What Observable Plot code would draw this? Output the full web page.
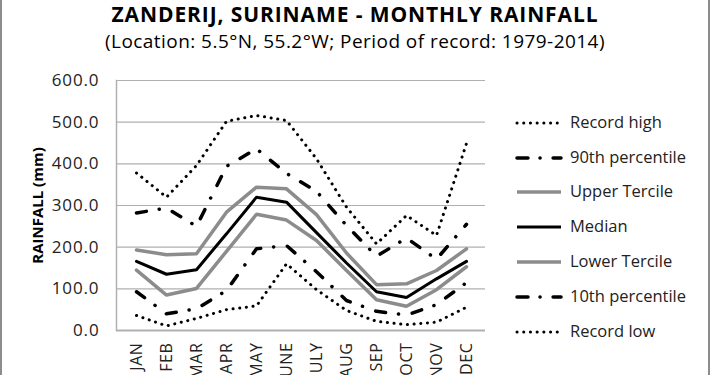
<!DOCTYPE html>
<html>
<head>
<meta charset="utf-8">
<script src="https://cdn.jsdelivr.net/npm/d3@7"></script>
<script src="https://cdn.jsdelivr.net/npm/@observablehq/plot@0.6"></script>
<style>
  html, body { margin: 0; padding: 0; background: #fff; }
  #wrap { position: relative; width: 710px; height: 375px; overflow: hidden; background: #fff; font-family: "Open Sans", sans-serif; }
  #edge { position: absolute; left: 0; top: -2px; width: 706px; height: 380px; border-left: 2px solid #8c8c8c; border-right: 2px solid #8c8c8c; pointer-events: none; }
  #title { position: absolute; left: 0; width: 710px; top: 0px; text-align: center; font-weight: bold; font-size: 21px; letter-spacing: 0.9px; color: #000; line-height: 29px; }
  #subtitle { position: absolute; left: 0; width: 710px; top: 28px; text-align: center; font-size: 19px; letter-spacing: 0.45px; color: #000; line-height: 26px; }
  #chart { position: absolute; left: 0; top: 60px; }
  #chart svg g[aria-label="y-axis tick label"] text { letter-spacing: 0.9px; }
  #chart svg g[aria-label="x-axis tick label"] text { letter-spacing: 0.6px; }
  #legend { position: absolute; left: 515px; top: 0; }
  .row { position: absolute; left: 0; height: 20px; white-space: nowrap; font-size: 16.5px; color: #222; }
  .row svg { position: absolute; left: 0; top: 5px; }
  .row span { position: absolute; left: 55px; top: -2px; line-height: 22px; }
</style>
</head>
<body>
<div id="wrap">
  <div id="title">ZANDERIJ, SURINAME - MONTHLY RAINFALL</div>
  <div id="subtitle">(Location: 5.5°N, 55.2°W; Period of record: 1979-2014)</div>
  <div id="chart"></div>
  <div id="legend"></div>
  <div id="edge"></div>
</div>
<script>
const months = ["JAN","FEB","MAR","APR","MAY","JUNE","JULY","AUG","SEP","OCT","NOV","DEC"];
const recordHigh   = [378, 320, 396, 502, 516, 504, 412, 296, 208, 276, 228, 449];
const p90          = [282, 294, 250, 394, 436, 377, 334, 252, 178, 222, 171, 255];
const upperTercile = [193, 182, 184, 284, 344, 340, 278, 186, 110, 112, 144, 196];
const median       = [166, 135, 146, 232, 320, 308, 235, 162,  93,  79, 124, 166];
const lowerTercile = [145,  85, 101, 190, 279, 265, 216, 144,  74,  58,  98, 153];
const p10          = [ 93,  40,  52,  96, 196, 204, 141,  72,  46,  37,  62, 115];
const recordLow    = [ 36,  11,  29,  50,  59, 160,  98,  48,  22,  14,  20,  56];
const yTicks = [0, 100, 200, 300, 400, 500, 600];

const dotted = {stroke: "#000", strokeWidth: 3, strokeDasharray: "0.1 6.6", strokeLinecap: "round"};
const dashDot = {stroke: "#000", strokeWidth: 3.5, strokeDasharray: "10 13 0.1 14", strokeLinecap: "round"};
const grayLine = {stroke: "#8c8c8c", strokeWidth: 3.5, strokeLinejoin: "miter"};
const blackLine = {stroke: "#000", strokeWidth: 3, strokeLinejoin: "miter"};

const series = [
  {name: "Record high", values: recordHigh, style: dotted},
  {name: "90th percentile", values: p90, style: dashDot},
  {name: "Upper Tercile", values: upperTercile, style: grayLine},
  {name: "Median", values: median, style: blackLine},
  {name: "Lower Tercile", values: lowerTercile, style: grayLine},
  {name: "10th percentile", values: p10, style: dashDot},
  {name: "Record low", values: recordLow, style: dotted}
];

const lineMarks = series.map(s =>
  Plot.line(months.map((m, i) => ({month: m, value: s.values[i]})), {x: "month", y: "value", ...s.style})
);

const chart = Plot.plot({
  width: 710,
  height: 315,
  marginLeft: 116,
  marginRight: 225,
  marginTop: 20,
  marginBottom: 45,
  style: {fontFamily: "Open Sans, sans-serif", fontSize: "16px", color: "#222", background: "#fff"},
  x: {type: "point", domain: months, padding: 0.5, label: null},
  y: {domain: [0, 600], label: null},
  marks: [
    Plot.ruleY(yTicks.filter(d => d > 0), {stroke: "#b0b0b0", strokeWidth: 1.2}),
    Plot.ruleY([0], {stroke: "#b0b0b0", strokeWidth: 2}),
    Plot.frame({anchor: "left", stroke: "#b0b0b0", strokeWidth: 1.5}),
    Plot.axisY({ticks: yTicks, tickFormat: d => d.toFixed(1), tickSize: 0, tickPadding: 17, fontSize: 17, label: null}),
    Plot.axisX({tickRotate: -90, tickSize: 0, tickPadding: 12, fontSize: 16, label: null}),
    Plot.text(["RAINFALL (mm)"], {text: d => d, frameAnchor: "left", textAnchor: "middle", rotate: -90, dx: -78, fontWeight: "bold", fontSize: 15, fill: "#000"}),
    ...lineMarks
  ]
});
document.getElementById("chart").appendChild(chart);

const legend = document.getElementById("legend");
const rowYs = [123, 158, 192, 227, 262, 297, 332];
series.forEach((s, i) => {
  const row = document.createElement("div");
  row.className = "row";
  row.style.top = (rowYs[i] - 10) + "px";
  const st = s.style;
  row.innerHTML = `<svg width="50" height="10"><line x1="2" y1="5" x2="46" y2="5" stroke="${st.stroke}" stroke-width="${st.strokeWidth}" ${st.strokeDasharray ? `stroke-dasharray="${s.style === dashDot ? '11 12 0.1 13' : st.strokeDasharray}"` : ""} stroke-linecap="${st.strokeLinecap || 'butt'}"/></svg><span>${s.name}</span>`;
  legend.appendChild(row);
});
</script>
</body>
</html>
